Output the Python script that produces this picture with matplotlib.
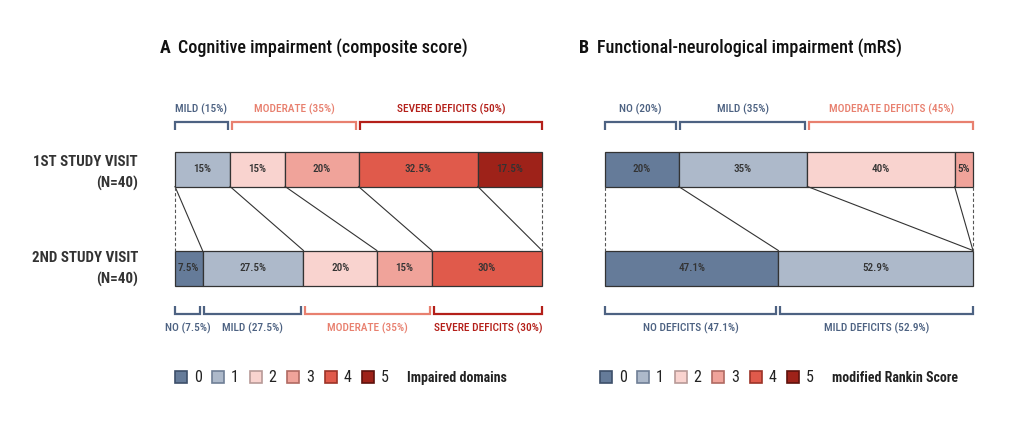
import matplotlib
matplotlib.use("Agg")
import matplotlib.pyplot as plt
from matplotlib.lines import Line2D
import numpy as np

plt.rcParams['font.family'] = ['Roboto Condensed', 'DejaVu Sans']

# category colours (0..5)
colors = ['#657b99', '#adb9ca', '#f9d3cf', '#f0a39a', '#e05a4b', '#9e2219']
edge_colors = ['#3d4f6a', '#6f7f96', '#b89a97', '#b06a62', '#9c3328', '#5e120c']
c_blue = '#4d6282'
c_mod = '#e8806f'
c_sev = '#b41f19'
c_text = '#333333'

categories = [0, 1, 2, 3, 4, 5]

# panel A: cognitive impairment (% per number of impaired domains)
cog_visit1 = [0, 15, 15, 20, 32.5, 17.5]
cog_visit2 = [7.5, 27.5, 20, 15, 30, 0]
# panel B: modified Rankin Score
mrs_visit1 = [20, 35, 40, 5, 0, 0]
mrs_visit2 = [47.1, 52.9, 0, 0, 0, 0]

# brackets: (label, first category, last category, colour)
cog_groups1 = [("MILD (15%)", 1, 1, c_blue), ("MODERATE (35%)", 2, 3, c_mod),
               ("SEVERE DEFICITS (50%)", 4, 5, c_sev)]
cog_groups2 = [("NO (7.5%)", 0, 0, c_blue), ("MILD (27.5%)", 1, 1, c_blue),
               ("MODERATE (35%)", 2, 3, c_mod), ("SEVERE DEFICITS (30%)", 4, 4, c_sev)]
mrs_groups1 = [("NO (20%)", 0, 0, c_blue), ("MILD (35%)", 1, 1, c_blue),
               ("MODERATE DEFICITS (45%)", 2, 3, c_mod)]
mrs_groups2 = [("NO DEFICITS (47.1%)", 0, 0, c_blue), ("MILD DEFICITS (52.9%)", 1, 1, c_blue)]

W, H = 1024, 424
fig = plt.figure(figsize=(W / 100, H / 100), dpi=100)

y1, y2 = 169, 268     # bar centres (pixel rows)
bh = 35


def bracket(ax, x0, x1, y, up, color, label):
    tick = 8
    yt = y + tick if up else y - tick
    ax.plot([x0, x0, x1, x1], [yt, y, y, yt], color=color, lw=1.6,
            solid_capstyle='butt', solid_joinstyle='miter', clip_on=False)
    ly = y - 13 if up else y + 14
    ax.text((x0 + x1) / 2, ly, label, color=color, ha='center', va='center',
            fontsize=8.2, fontweight='medium', clip_on=False)


def panel(ax, v1, v2, groups1, groups2):
    ax.set_xlim(0, 100)
    ax.set_ylim(H, 0)
    ax.axis('off')
    c1 = np.concatenate([[0], np.cumsum(v1)])
    c2 = np.concatenate([[0], np.cumsum(v2)])
    for yy, vals, cum in [(y1, v1, c1), (y2, v2, c2)]:
        for k, v in enumerate(vals):
            if v <= 0:
                continue
            ax.barh(yy, v, left=cum[k], height=bh, color=colors[k],
                    edgecolor='#333333', linewidth=0.9, clip_on=False)
            ax.text(cum[k] + v / 2, yy, f"{v:g}%", ha='center', va='center',
                    fontsize=8, fontweight='medium', color=c_text)
    # connectors between visits
    top_b = y1 + bh / 2
    bot_t = y2 - bh / 2
    for k in categories:
        if k == 0 or v1[k] <= 0:
            continue
        ax.plot([c1[k], c2[k]], [top_b, bot_t], color='#333333', lw=0.8,
                clip_on=False)
    for x in (0, 100):
        ax.plot([x, x], [top_b, bot_t], color='#555555', lw=0.8,
                ls=(0, (3, 2)), clip_on=False)
    for label, a, b, col in groups1:
        x0 = c1[a] + (0.5 if c1[a] > 0 else 0)
        x1 = c1[b + 1] - (0.6 if c1[b + 1] < 100 else 0)
        bracket(ax, x0, x1, 122, True, col, label)
    for label, a, b, col in groups2:
        x0 = c2[a] + (0.5 if c2[a] > 0 else 0)
        x1 = c2[b + 1] - (0.6 if c2[b + 1] < 100 else 0)
        bracket(ax, x0, x1, 314, False, col, label)


def legend(x):
    handles = [Line2D([], [], marker='s', ls='', markersize=8,
                      markerfacecolor=colors[k], markeredgecolor=edge_colors[k],
                      markeredgewidth=1.2) for k in categories]
    leg = fig.legend(handles, [str(k) for k in categories], ncol=6,
                     loc='center left', bbox_to_anchor=(x / W, 1 - 378 / H),
                     frameon=False, fontsize=11.5, handletextpad=0.3,
                     columnspacing=0.55, handlelength=1.0, borderaxespad=0,
                     borderpad=0)
    for t in leg.get_texts():
        t.set_color('#222222')
    return leg


axA = fig.add_axes([175 / W, 0, 367 / W, 1])
axB = fig.add_axes([605 / W, 0, 368 / W, 1])
panel(axA, cog_visit1, cog_visit2, cog_groups1, cog_groups2)
panel(axB, mrs_visit1, mrs_visit2, mrs_groups1, mrs_groups2)

for xl, letter, title in [(160, "A", "Cognitive impairment (composite score)"),
                          (579, "B", "Functional-neurological impairment (mRS)")]:
    fig.text(xl / W, 1 - 48 / H, letter, fontsize=13, fontweight='bold',
             ha='left', va='center', color='#111111')
    fig.text((xl + 18) / W, 1 - 48 / H, title, fontsize=13, fontweight='medium',
             ha='left', va='center', color='#111111')

for yy, name in [(162, "1ST STUDY VISIT"), (258, "2ND STUDY VISIT")]:
    fig.text(138 / W, 1 - yy / H, name, fontsize=10.8, fontweight='semibold',
             ha='right', va='center', color='#333333')
    fig.text(138 / W, 1 - (yy + 21) / H, "(N=40)", fontsize=10.8, fontweight='semibold',
             ha='right', va='center', color='#333333')

legend(173)
legend(598)
fig.text(407 / W, 1 - 378 / H, "Impaired domains", fontsize=10, fontweight='semibold',
         ha='left', va='center', color='#222222')
fig.text(832 / W, 1 - 378 / H, "modified Rankin Score", fontsize=10, fontweight='semibold',
         ha='left', va='center', color='#222222')

fig.savefig("out.png", dpi=100, facecolor='white')
